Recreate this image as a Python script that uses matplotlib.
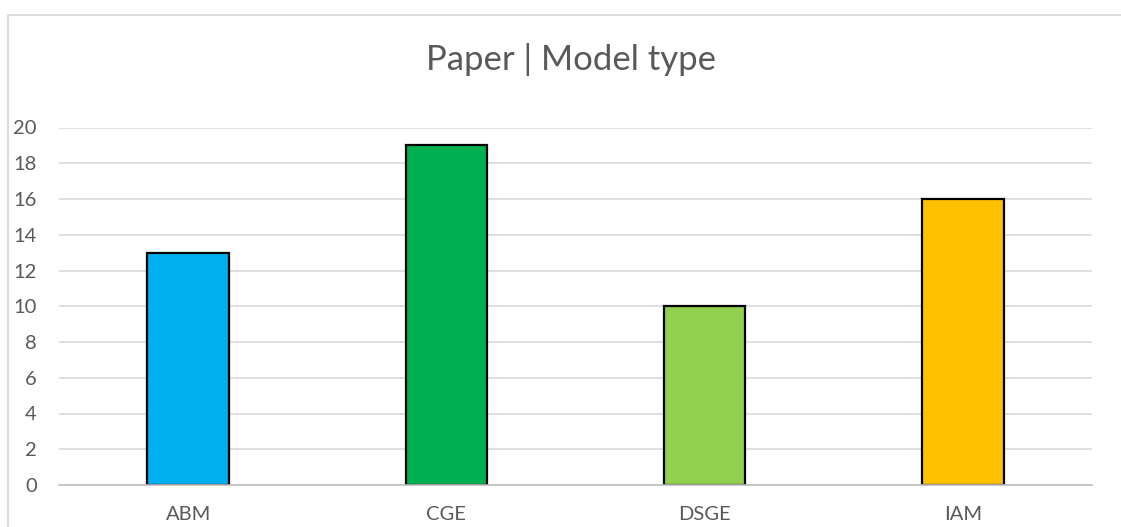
import matplotlib.pyplot as plt
from matplotlib.patches import Rectangle

categories = ["ABM", "CGE", "DSGE", "IAM"]
papers = [13, 19, 10, 16]
bar_colors = ["#00B0F0", "#00B050", "#92D050", "#FFC000"]
yticks = list(range(0, 21, 2))

plt.rcParams['font.family'] = ['Lato', 'DejaVu Sans']

fig = plt.figure(figsize=(11.21, 5.27), dpi=100)
W, H = 1121, 527

# chart border (cropped on the right / bottom)
fig.patches.append(Rectangle((8 / W, -0.05), 1.2, 1 - 15 / H + 0.05,
                             transform=fig.transFigure, fill=False,
                             edgecolor="#D9D9D9", linewidth=1.3))

ax = fig.add_axes([59 / W, 1 - 485 / H, (1092 - 59) / W, (485 - 127.5) / H])
x = range(len(categories))
ax.bar(x, papers, width=0.315, color=bar_colors, edgecolor="black",
       linewidth=1.6, zorder=3)

ax.set_xlim(-0.5, len(categories) - 0.5)
ax.set_ylim(0, 20)
ax.set_yticks(yticks)
ax.set_xticks(list(x))
ax.set_xticklabels(categories)
ax.grid(axis="y", color="#D9D9D9", linewidth=1.2, zorder=0)
for s in ["top", "right", "left"]:
    ax.spines[s].set_visible(False)
ax.spines["bottom"].set_color("#BFBFBF")
ax.spines["bottom"].set_linewidth(1.2)
ax.spines["bottom"].set_zorder(4)
ax.tick_params(axis="both", length=0, colors="#595959", labelsize=14.5)
ax.tick_params(axis="y", pad=16)
ax.tick_params(axis="x", pad=15)

fig.text(571 / W, 1 - 70 / H, "Paper | Model type", ha="center", va="baseline",
         fontsize=25, color="#595959")

fig.savefig("out.png", dpi=100)
